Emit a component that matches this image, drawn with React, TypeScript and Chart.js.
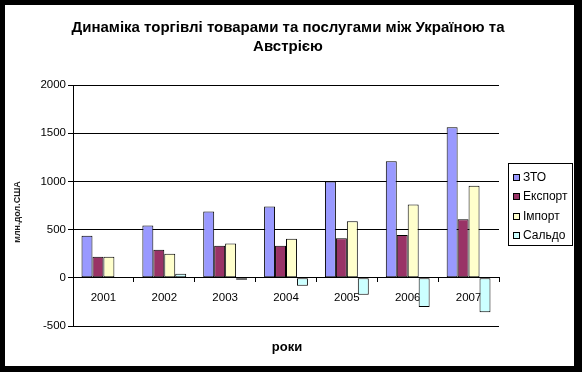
import React, { useEffect, useRef } from "react";
import { Chart, registerables } from "chart.js";

Chart.register(...registerables);

const years = ["2001", "2002", "2003", "2004", "2005", "2006", "2007"];
const zto = [437, 542, 688, 740, 1000, 1208, 1563];
const eksport = [219, 292, 333, 333, 409, 445, 607];
const import_ = [219, 250, 357, 406, 586, 760, 955];
const saldo = [0, 42, -21, -83, -177, -302, -357];
const seriesNames = ["ЗТО", "Експорт", "Імпорт", "Сальдо"];
const seriesColors = ["#9999FF", "#993366", "#FFFFCC", "#CCFFFF"];
const titleLines = ["Динаміка торгівлі товарами та послугами між Україною та", "Австрією"];
const xTitle = "роки";
const yTitle = "млн.дол.США";

const FONT = "'Liberation Sans', Arial, sans-serif";

const framePlugin = {
  id: "frame",
  beforeDraw(chart: any) {
    const { ctx, width, height } = chart;
    ctx.save();
    ctx.fillStyle = "#000";
    ctx.fillRect(0, 0, width, height);
    ctx.fillStyle = "#fff";
    ctx.fillRect(5, 5, 569, 361);
    ctx.restore();
  },
  afterDraw(chart: any) {
    const { ctx } = chart;
    ctx.save();
    // title
    ctx.fillStyle = "#000";
    ctx.font = `bold 15px ${FONT}`;
    ctx.textAlign = "center";
    ctx.textBaseline = "middle";
    ctx.fillText(titleLines[0], 288, 28);
    ctx.fillText(titleLines[1], 288, 47);
    // x title
    ctx.font = `bold 13px ${FONT}`;
    ctx.fillText(xTitle, 287, 347);
    // y title
    ctx.save();
    ctx.translate(18, 212);
    ctx.rotate(-Math.PI / 2);
    ctx.font = `bold 9px ${FONT}`;
    ctx.fillStyle = "#222";
    ctx.fillText(yTitle, 0, 0);
    ctx.restore();
    // legend
    const lx = 508, ly = 163, lw = 64, lh = 82;
    ctx.fillStyle = "#fff";
    ctx.fillRect(lx, ly, lw, lh);
    ctx.strokeStyle = "#000";
    ctx.lineWidth = 1;
    ctx.strokeRect(lx + 0.5, ly + 0.5, lw, lh);
    ctx.font = `12px ${FONT}`;
    ctx.textAlign = "left";
    chart.data.datasets.forEach((ds: any, i: number) => {
      const cy = 177 + i * 19.5;
      ctx.fillStyle = ds.backgroundColor;
      ctx.fillRect(513, Math.round(cy - 3.5), 7, 7);
      ctx.strokeRect(513.5, Math.round(cy - 3.5) + 0.5, 6, 6);
      ctx.fillStyle = "#000";
      ctx.fillText(ds.label, 523, cy + 0.5);
    });
    ctx.restore();
  },
};

export default function App() {
  const ref = useRef<HTMLCanvasElement>(null);
  useEffect(() => {
    if (!ref.current) return;
    const values = [zto, eksport, import_, saldo];
    const chart = new Chart(ref.current, {
      type: "bar",
      data: {
        labels: years,
        datasets: values.map((v, i) => ({
          label: seriesNames[i],
          data: v,
          backgroundColor: seriesColors[i],
          borderColor: "#000",
          borderWidth: 1,
          borderSkipped: false,
          categoryPercentage: 0.72,
          barPercentage: 1.0,
        })),
      },
      options: {
        responsive: false,
        animation: false,
        devicePixelRatio: 1,
        layout: { padding: { left: 0, top: 85, right: 83, bottom: 46 } },
        plugins: { legend: { display: false }, title: { display: false }, tooltip: { enabled: false } },
        scales: {
          x: {
            position: { y: 0 } as any,
            offset: true,
            grid: { offset: true, drawOnChartArea: false, drawTicks: true, tickLength: 4, color: "#000" },
            border: { display: true, color: "#000" },
            ticks: { color: "#000", font: { family: FONT, size: 11.5 }, padding: 9, maxRotation: 0 },
          },
          y: {
            min: -500,
            max: 2000,
            afterFit: (scale: any) => { scale.width = 73; },
            ticks: {
              stepSize: 500,
              color: "#000",
              font: { family: FONT, size: 11.5 },
              padding: 2,
              callback: (v: any) => String(v),
            },
            grid: { color: "#000", tickLength: 5 },
            border: { display: true, color: "#000" },
          },
        },
      },
      plugins: [framePlugin],
    });
    return () => chart.destroy();
  }, []);
  return (
    <div style={{ position: "fixed", left: 0, top: 0, width: 582, height: 372 }}>
      <canvas ref={ref} width={582} height={372} style={{ width: 582, height: 372, display: "block" }} />
    </div>
  );
}
